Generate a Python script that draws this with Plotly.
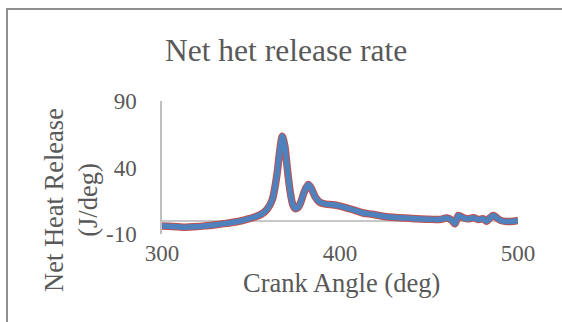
import plotly.graph_objects as go

# ---- data ----
crank_angle = [300, 306, 312, 318, 324, 330, 336, 342, 348, 352, 356, 359, 362,
               364.5, 366.5, 367.6, 369, 370.5, 372, 373.5, 375, 376.5, 378, 380,
               382.2, 384, 386, 388.5, 392, 396, 400, 404, 408, 413, 418, 424, 430,
               436, 443, 450, 456, 460, 462.7, 464.6, 466.5, 469.3, 472, 475, 477.7,
               480.5, 482.4, 484.5, 486.1, 489.9, 493.6, 497.4, 500]
net_hrr = [-4.0, -4.3, -4.9, -4.5, -3.9, -3.0, -2.0, -0.8, 1.2, 2.8, 5.0, 8.5, 16,
           34, 56, 63.5, 56, 38, 22, 12, 9, 10, 14, 22,
           27.2, 24, 18, 14, 12.5, 12, 11, 9.5, 8.0, 5.8, 4.8, 3.4, 2.6,
           2.0, 1.4, 1.1, 0.9, 2.0, 0.4, -2.3, 3.9, 2.2, 1.4, 2.2, 0.9,
           1.4, -0.4, 2.5, 3.9, 0.4, -0.6, -0.4, 0.1]
net_hrr_outline = list(net_hrr)

x_ticks = [300, 400, 500]
x_tick_labels = ["300", "400", "500"]
y_ticks = [-10, 40, 90]
y_tick_labels = ["-10", "40", "90"]

chart_title = "Net het release rate"
x_title = "Crank Angle (deg)"
y_title = "Net Heat Release<br>(J/deg)"

# ---- layout geometry ----
W, H = 562, 322
L, R, T, B = 162, 518, 101, 234
TEXT = "#595959"
FONT = "Liberation Serif"


def px(x):
    return (x - L) / (R - L)


def py(y):
    return (B - y) / (B - T)


fig = go.Figure()
fig.add_trace(go.Scatter(x=crank_angle, y=net_hrr_outline, mode="lines",
                         line=dict(color="#c0504d", width=7.5, shape="spline", smoothing=0.8),
                         hoverinfo="skip", showlegend=False))
fig.add_trace(go.Scatter(x=crank_angle, y=net_hrr, mode="lines",
                         line=dict(color="#4f81bd", width=5.5, shape="spline", smoothing=0.8),
                         showlegend=False))

fig.update_layout(
    width=W, height=H,
    margin=dict(l=L, r=W - R, t=T, b=H - B),
    paper_bgcolor="white", plot_bgcolor="white",
    font=dict(family=FONT, color=TEXT),
    xaxis=dict(range=[300, 500], tickvals=x_ticks, ticktext=x_tick_labels,
               showgrid=False, zeroline=False,
               showline=False, ticks="", tickfont=dict(size=23, family=FONT, color=TEXT),
               ticklabelstandoff=3),
    yaxis=dict(range=[-10, 90], tickvals=y_ticks, ticktext=y_tick_labels,
               showgrid=False, zeroline=True,
               zerolinecolor="#c8c8c8", zerolinewidth=2,
               showline=True, linecolor="#bfbfbf", linewidth=1.5, ticks="",
               tickfont=dict(size=23, family=FONT, color=TEXT), ticklabelstandoff=19),
    annotations=[
        dict(text=chart_title, x=px(286), y=py(50), xref="paper", yref="paper",
             showarrow=False, xanchor="center", yanchor="middle",
             font=dict(size=31.5, family=FONT, color=TEXT)),
        dict(text=x_title, x=px(341), y=py(283), xref="paper", yref="paper",
             showarrow=False, xanchor="center", yanchor="middle",
             font=dict(size=26.5, family=FONT, color=TEXT)),
        dict(text=y_title, x=px(71), y=py(200), xref="paper", yref="paper",
             showarrow=False, xanchor="center", yanchor="middle", textangle=-90,
             font=dict(size=26.5, family=FONT, color=TEXT)),
    ],
    shapes=[
        dict(type="path", xref="paper", yref="paper",
             path=f"M {px(7)} {py(330)} L {px(7)} {py(9)} L {px(570)} {py(9)}",
             line=dict(color="#8f8f8f", width=2)),
    ],
)

fig.write_html("out.html")
